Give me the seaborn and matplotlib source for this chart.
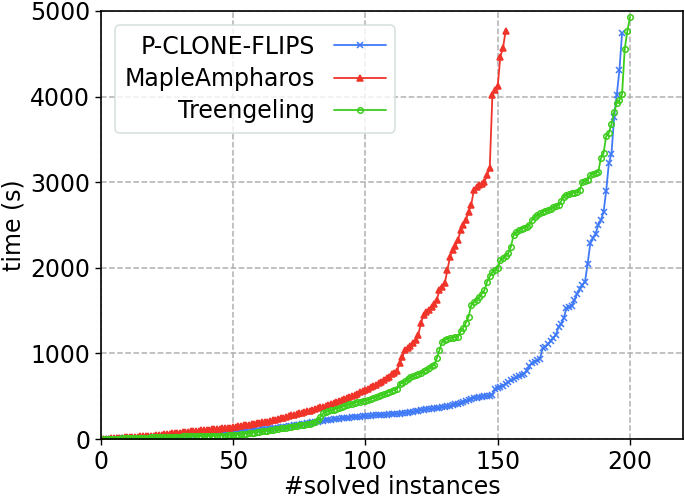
"""
Cactus plot: solved instances vs. time for three solvers
"""
import matplotlib
matplotlib.use("Agg")
import matplotlib.pyplot as plt
import numpy as np
import pandas as pd
import seaborn as sns

# time (s) for the n-th solved instance
pclone_flips = [
	2, 3, 4, 5, 6, 7, 8, 9, 10, 11,
	12, 13, 14, 15, 16, 17, 18, 19, 20, 22,
	24, 26, 28, 30, 32, 34, 36, 38, 40, 42,
	44, 46, 48, 50, 52, 54, 56, 58, 60, 62,
	64, 66, 68, 70, 72, 74, 76, 78, 80, 82,
	85, 88, 91, 94, 97, 100, 103, 106, 109, 112,
	115, 118, 121, 124, 127, 130, 134, 138, 142, 146,
	150, 155, 160, 165, 170, 175, 180, 185, 190, 195,
	200, 205, 210, 215, 220, 224, 228, 232, 236, 240,
	243, 246, 249, 252, 255, 258, 261, 264, 267, 270,
	272, 274, 276, 278, 280, 282, 284, 286, 288, 290,
	293, 296, 299, 302, 306, 310, 315, 320, 326, 332,
	338, 342, 346, 350, 354, 358, 362, 366, 370, 376,
	382, 390, 398, 406, 414, 422, 430, 440, 455, 470,
	480, 486, 490, 494, 498, 502, 506, 512, 590, 600,
	607, 625, 645, 665, 690, 705, 720, 735, 750, 765,
	800, 850, 890, 905, 920, 940, 1060, 1080, 1110, 1150,
	1180, 1220, 1310, 1350, 1420, 1530, 1540, 1550, 1620, 1700,
	1750, 1800, 1840, 2050, 2290, 2350, 2400, 2500, 2560, 2650,
	2900, 3220, 3335, 3760, 4020, 4310, 4740,
]

maple_ampharos = [
	3, 5, 7, 9, 11, 13, 15, 17, 19, 21,
	23, 25, 27, 29, 31, 33, 35, 37, 39, 41,
	45, 49, 53, 57, 61, 65, 68, 71, 74, 77,
	80, 83, 86, 89, 92, 95, 98, 101, 104, 107,
	110, 113, 116, 119, 122, 125, 128, 131, 135, 140,
	145, 150, 155, 160, 165, 170, 175, 180, 185, 190,
	195, 200, 205, 212, 220, 228, 236, 244, 252, 260,
	268, 276, 284, 292, 300, 308, 316, 324, 332, 340,
	350, 360, 370, 380, 390, 400, 412, 424, 436, 448,
	460, 472, 484, 496, 508, 520, 532, 545, 560, 575,
	590, 605, 620, 635, 650, 670, 690, 710, 730, 755,
	775, 800, 890, 960, 1040, 1060, 1090, 1120, 1160, 1215,
	1355, 1450, 1480, 1510, 1545, 1580, 1625, 1740, 1780, 1820,
	1975, 2130, 2210, 2260, 2325, 2440, 2500, 2560, 2650, 2735,
	2910, 2940, 2967, 2985, 3005, 3085, 3165, 4020, 4080, 4120,
	4466, 4565, 4770,
]

treengeling = [
	1, 2, 3, 4, 5, 6, 7, 8, 9, 10,
	11, 12, 13, 14, 15, 16, 17, 18, 19, 20,
	21, 22, 23, 24, 25, 26, 27, 28, 29, 30,
	31, 32, 33, 34, 35, 36, 37, 38, 39, 40,
	36, 37, 38, 39, 40, 41, 42, 43, 44, 45,
	48, 52, 56, 60, 64, 68, 72, 76, 80, 85,
	90, 95, 100, 105, 110, 115, 120, 125, 130, 135,
	140, 145, 150, 155, 160, 165, 170, 175, 180, 185,
	195, 220, 260, 300, 315, 325, 335, 345, 355, 365,
	375, 385, 395, 405, 415, 425, 432, 438, 444, 450,
	460, 470, 480, 490, 500, 510, 525, 540, 555, 565,
	575, 590, 640, 660, 680, 700, 720, 735, 750, 760,
	770, 790, 810, 830, 850, 865, 945, 1040, 1137, 1160,
	1170, 1180, 1185, 1190, 1195, 1260, 1300, 1360, 1430, 1565,
	1600, 1630, 1662, 1700, 1740, 1838, 1900, 1955, 1975, 1997,
	2090, 2114, 2140, 2173, 2247, 2383, 2420, 2440, 2455, 2465,
	2477, 2500, 2560, 2590, 2617, 2635, 2650, 2665, 2675, 2690,
	2705, 2720, 2735, 2780, 2830, 2850, 2860, 2870, 2880, 2890,
	2910, 3005, 3015, 3025, 3085, 3100, 3110, 3120, 3280, 3340,
	3540, 3575, 3680, 3820, 3925, 3960, 4030, 4555, 4770, 4930,
]

solvers = ['P-CLONE-FLIPS', 'MapleAmpharos', 'Treengeling']
times = [sorted(pclone_flips), sorted(maple_ampharos), sorted(treengeling)]
colors = ['#3f79f8', '#f0342a', '#3ccd1c']
markers = ['x', '^', 'o']

sns.set_style('ticks')
plt.rcParams['font.family'] = ['DejaVu Sans']
for key in ['text.color', 'axes.labelcolor', 'xtick.color', 'ytick.color']:
	plt.rcParams[key] = 'black'

fig = plt.figure(figsize=(6.85, 4.99), dpi=100)
ax = fig.add_axes([0.147, 0.12, 0.85, 0.858])

for name, t, color, marker in zip(solvers, times, colors, markers):
	df = pd.DataFrame({'solved': np.arange(1, len(t) + 1), 'time': t})
	kw = dict(markersize=4, markeredgewidth=1.1, markeredgecolor=color)
	if marker == 'o':
		kw['markerfacecolor'] = 'none'
	sns.lineplot(data=df, x='solved', y='time', ax=ax, color=color, marker=marker,
				 linewidth=1.3, label=name, **kw)

ax.set_xlim(0, 220)
ax.set_ylim(0, 5000)
ax.set_xticks([0, 50, 100, 150, 200])
ax.set_yticks([0, 1000, 2000, 3000, 4000, 5000])
ax.grid(True, linestyle='--', color='#b0b0b0', linewidth=1.1)
ax.tick_params(labelsize=17, direction='out', length=4, width=1)
ax.set_xlabel('#solved instances', fontsize=17, labelpad=1)
ax.set_ylabel('time (s)', fontsize=17, labelpad=3)
for s in ax.spines.values():
	s.set_color('black')
	s.set_linewidth(1.2)

leg = ax.legend(loc='upper left', fontsize=17, markerfirst=False, frameon=True,
				handlelength=2.2, borderaxespad=0.6, labelspacing=0.35)
leg.get_frame().set_edgecolor('#cfdcd8')
leg.get_frame().set_linewidth(1.2)

fig.savefig('out.png', dpi=100)
